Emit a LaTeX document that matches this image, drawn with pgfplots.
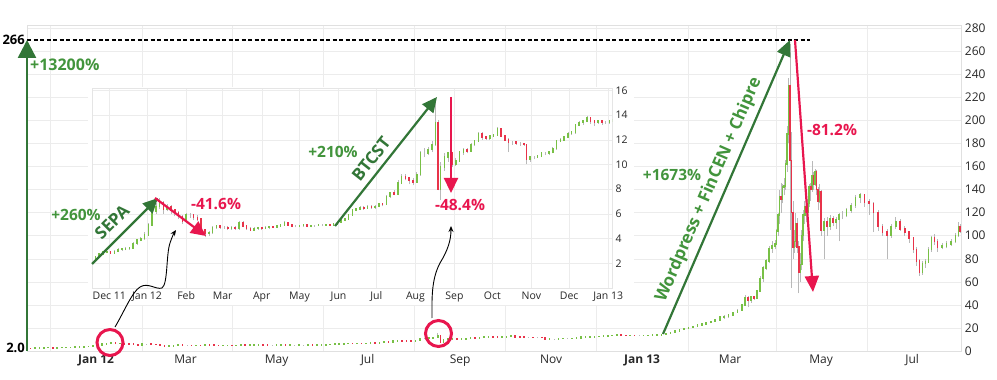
\documentclass[border=0pt]{standalone}
\usepackage{pgfplots}
\pgfplotsset{compat=1.18}
\usepackage{pgfplotstable}
\usepackage{fontspec}
\setmainfont{Open Sans}
\usetikzlibrary{arrows.meta}
\definecolor{cgreen}{RGB}{120,192,70}
\definecolor{cred}{RGB}{232,51,74}
\definecolor{agreen}{RGB}{50,118,55}
\definecolor{tgreen}{RGB}{66,148,60}
\definecolor{ared}{RGB}{232,22,78}
\definecolor{wick}{RGB}{185,185,185}
\definecolor{gridc}{RGB}{236,236,236}
\definecolor{tickc}{RGB}{40,40,40}

\pgfplotstableread{
d o h l c
-44 2.30 2.40 2.00 2.25
-41 2.25 2.60 2.20 2.50
-38 2.50 2.85 2.45 2.75
-35 2.75 3.00 2.70 2.90
-32 2.90 3.05 2.80 2.95
-29 2.95 3.00 2.75 2.85
-26 2.85 3.05 2.80 2.95
-23 2.95 3.20 2.90 3.10
-20 3.10 3.25 3.00 3.15
-17 3.15 3.30 3.05 3.20
-14 3.20 3.35 3.10 3.25
-11 3.25 3.75 3.20 3.60
-8 3.60 4.00 3.50 3.90
-5 3.90 4.15 3.80 4.00
-2 4.00 4.50 3.90 4.30
1 4.30 5.30 4.20 5.10
4 5.10 6.40 5.00 6.20
7 6.20 6.90 6.00 6.60
10 6.60 7.30 6.40 6.90
13 6.90 7.00 6.00 6.40
16 6.40 6.80 6.20 6.60
19 6.60 6.70 6.00 6.30
22 6.30 6.40 5.80 6.10
25 6.10 6.20 5.60 5.80
28 5.80 5.90 5.20 5.40
31 5.40 6.10 5.30 5.90
34 5.90 6.10 5.70 5.90
37 5.90 6.00 5.50 5.70
40 5.70 5.90 5.40 5.60
43 5.60 5.70 4.50 4.70
46 4.70 4.80 4.10 4.40
49 4.40 4.60 4.20 4.50
52 4.50 5.00 4.40 4.90
55 4.90 5.10 4.80 5.00
58 5.00 5.10 4.80 4.90
61 4.90 5.00 4.80 4.90
64 4.90 5.00 4.70 4.80
67 4.80 5.00 4.70 4.90
70 4.90 5.00 4.70 4.80
73 4.80 5.40 4.70 5.30
76 5.30 5.40 4.90 5.00
79 5.00 5.10 4.70 4.80
82 4.80 4.90 4.60 4.70
85 4.70 4.90 4.60 4.80
88 4.80 4.95 4.70 4.85
91 4.85 4.95 4.70 4.80
94 4.80 5.00 4.75 4.90
97 4.90 5.00 4.80 4.95
100 4.95 5.05 4.85 4.90
103 4.90 5.10 4.85 5.00
106 5.00 5.20 4.95 5.10
109 5.10 5.40 5.05 5.30
112 5.30 5.35 5.00 5.10
115 5.10 5.15 4.90 5.00
118 5.00 5.10 4.90 5.00
121 5.00 5.10 4.90 5.05
124 5.05 5.15 4.95 5.10
127 5.10 5.15 4.90 5.00
130 5.00 5.10 4.90 5.05
133 5.05 5.10 4.95 5.05
136 5.05 5.15 5.00 5.10
139 5.10 5.15 5.00 5.10
142 5.10 5.20 5.05 5.15
145 5.15 5.20 5.00 5.10
148 5.10 5.25 5.05 5.20
151 5.20 5.35 5.15 5.30
154 5.30 5.55 5.25 5.50
157 5.50 5.70 5.40 5.60
160 5.60 6.00 5.55 5.90
163 5.90 6.40 5.85 6.30
166 6.30 6.50 6.20 6.40
169 6.40 6.60 6.30 6.50
172 6.50 6.60 6.35 6.45
175 6.45 6.70 6.40 6.60
178 6.60 6.70 6.40 6.50
181 6.50 6.70 6.40 6.60
184 6.60 6.90 6.55 6.80
187 6.80 6.90 6.60 6.75
190 6.75 7.50 6.70 7.40
193 7.40 7.80 7.30 7.70
196 7.70 7.90 7.50 7.60
199 7.60 8.70 7.50 8.50
202 8.50 9.20 8.40 9.00
205 9.00 9.20 8.70 8.90
208 8.90 9.00 8.40 8.70
211 8.70 8.90 8.30 8.60
214 8.60 9.40 8.50 9.20
217 9.20 11.10 9.10 10.90
220 10.90 11.30 10.60 10.90
223 10.90 11.40 10.80 11.20
226 11.20 11.90 11.00 11.60
229 11.60 15.40 11.50 13.40
231 13.40 13.60 7.90 8.00
233 8.00 10.20 7.10 9.80
236 9.80 10.90 9.50 10.60
239 10.60 11.00 10.20 10.90
242 10.90 11.00 9.80 10.00
245 10.00 10.50 9.90 10.30
248 10.30 11.10 10.20 11.00
251 11.00 11.30 10.80 11.20
254 11.20 11.30 10.90 11.10
257 11.10 11.70 11.00 11.60
260 11.60 12.00 11.50 11.90
263 11.90 12.60 11.80 12.50
266 12.50 12.60 12.00 12.20
269 12.20 12.30 12.00 12.10
272 12.10 12.40 12.00 12.30
275 12.30 12.50 12.20 12.40
278 12.40 13.00 12.30 12.90
281 12.90 12.95 12.20 12.30
284 12.30 12.40 11.90 12.00
287 12.00 12.10 11.00 11.80
290 11.80 11.90 11.60 11.80
293 11.80 11.85 11.60 11.70
296 11.70 11.80 11.50 11.70
299 11.70 11.75 11.50 11.60
301 11.60 11.65 10.00 10.40
304 10.40 10.70 10.20 10.60
307 10.60 10.70 10.40 10.60
310 10.60 10.80 10.50 10.70
313 10.70 11.00 10.60 10.90
316 10.90 11.00 10.75 10.90
319 10.90 11.10 10.80 11.00
322 11.00 11.40 10.90 11.30
325 11.30 12.00 11.20 11.90
328 11.90 12.10 11.80 12.00
331 12.00 12.30 11.90 12.20
334 12.20 12.60 12.10 12.50
337 12.50 12.70 12.40 12.60
340 12.60 13.30 12.50 13.20
343 13.20 13.50 13.10 13.40
346 13.40 13.60 13.20 13.50
349 13.50 13.90 13.40 13.80
352 13.80 13.85 13.30 13.50
355 13.50 13.60 13.10 13.40
358 13.40 13.60 13.30 13.50
361 13.50 13.55 13.20 13.40
364 13.40 13.50 13.30 13.40
367 13.40 13.60 13.30 13.50
370 13.50 13.70 13.40 13.60
373 13.60 14.00 13.50 13.90
376 13.90 14.20 13.80 14.10
379 14.10 14.40 13.90 14.30
382 14.30 15.20 14.20 15.00
385 15.00 16.40 14.90 16.20
388 16.20 17.50 16.00 17.30
391 17.30 18.80 17.10 18.60
394 18.60 19.80 18.40 19.50
397 19.50 20.60 19.20 20.40
400 20.40 21.50 20.00 21.30
403 21.30 22.80 21.00 22.50
406 22.50 23.80 22.00 23.50
409 23.50 25.20 23.00 24.80
412 24.80 26.00 24.00 25.50
415 25.50 27.50 25.00 27.00
418 27.00 30.00 26.50 29.60
421 29.60 31.00 28.00 29.80
424 29.80 31.50 29.00 31.00
427 31.00 34.00 30.50 33.50
430 33.50 36.00 33.00 35.00
433 35.00 41.00 34.50 40.00
435 40.00 48.50 39.00 46.00
437 46.00 48.00 38.00 44.00
439 44.00 48.00 42.00 47.00
441 47.00 48.00 44.00 46.00
443 46.00 53.00 45.00 52.00
445 52.00 65.00 51.00 63.00
447 63.00 74.00 60.00 72.00
449 72.00 80.00 70.00 78.00
451 78.00 91.00 76.00 89.00
453 89.00 95.00 85.00 91.00
455 91.00 96.00 88.00 93.00
456 93.00 106.00 92.00 104.00
457 104.00 120.00 100.00 118.00
458 118.00 140.00 110.00 134.00
459 134.00 146.00 120.00 132.00
460 132.00 145.00 128.00 142.00
461 142.00 150.00 135.00 143.00
462 143.00 166.00 140.00 162.00
463 162.00 195.00 155.00 188.00
464 188.00 237.00 180.00 230.00
465 230.00 266.00 105.00 165.00
466 165.00 190.00 55.00 120.00
467 120.00 130.00 80.00 90.00
468 90.00 105.00 85.00 95.00
469 95.00 120.00 90.00 110.00
470 110.00 115.00 85.00 90.00
471 90.00 95.00 50.00 68.00
472 68.00 85.00 60.00 75.00
473 75.00 105.00 70.00 100.00
474 100.00 122.00 95.00 118.00
475 118.00 130.00 110.00 125.00
476 125.00 128.00 112.00 120.00
477 120.00 132.00 118.00 128.00
478 128.00 145.00 125.00 142.00
479 142.00 146.00 130.00 140.00
480 140.00 165.00 138.00 152.00
481 152.00 155.00 140.00 145.00
482 145.00 158.00 143.00 155.00
483 155.00 157.00 135.00 140.00
484 140.00 142.00 122.00 130.00
485 130.00 145.00 128.00 138.00
486 138.00 140.00 100.00 105.00
488 105.00 115.00 80.00 112.00
490 112.00 116.00 100.00 108.00
492 108.00 118.00 105.00 115.00
494 115.00 117.00 108.00 112.00
496 112.00 116.00 106.00 114.00
498 114.00 120.00 95.00 118.00
500 118.00 121.00 114.00 118.00
503 118.00 124.00 116.00 122.00
506 122.00 128.00 120.00 126.00
509 126.00 135.00 124.00 133.00
512 133.00 137.00 128.00 135.00
515 135.00 136.00 125.00 129.00
518 129.00 132.00 118.00 128.00
521 128.00 129.00 103.00 120.00
524 120.00 122.00 104.00 108.00
527 108.00 110.00 100.00 103.00
530 103.00 106.00 80.00 100.00
533 100.00 110.00 98.00 108.00
536 108.00 116.00 106.00 112.00
539 112.00 114.00 104.00 106.00
542 106.00 108.00 100.00 103.00
545 103.00 104.00 94.00 98.00
548 98.00 99.00 85.00 88.00
550 88.00 90.00 74.00 78.00
552 78.00 80.00 65.00 68.00
554 68.00 78.00 66.00 76.00
556 76.00 80.00 72.00 77.00
558 77.00 90.00 76.00 88.00
560 88.00 100.00 86.00 98.00
562 98.00 101.00 92.00 95.00
564 95.00 97.00 86.00 90.00
567 90.00 94.00 88.00 91.00
570 91.00 95.00 89.00 93.00
573 93.00 97.00 91.00 95.00
576 95.00 102.00 94.00 100.00
578 100.00 112.00 99.00 108.00
579 108.00 110.00 102.00 104.00
}\btc

\pgfplotsset{
  wickplot/.style={draw=none, mark=none, forget plot,
    error bars/y dir=plus, error bars/y explicit, error bars/error mark=none,
    error bars/error bar style={draw=wick, line width=0.6bp, solid}},
  bodyplot/.style={draw=none, mark=none, forget plot,
    error bars/y dir=plus, error bars/y explicit, error bars/error mark=none,
    error bars/error bar style={draw=#1, line width=1.6bp, line cap=rect, solid}},
}

\newcommand{\pct}{\fontsize{15.5bp}{18bp}\selectfont\bfseries}

\begin{document}
\begin{tikzpicture}
\useasboundingbox (0bp,0bp) rectangle (997bp,380bp);
% ---------------- main chart ----------------
\begin{axis}[
  at={(27.4bp,29bp)}, anchor=south west, scale only axis,
  width=934bp, height=325.3bp,
  xmin=-46, xmax=580, ymin=0, ymax=282,
  axis line style={draw=black!12},
  xtick={0,60,121,182,244,305,366,425,486,547},
  xticklabels={\textbf{Jan 12},Mar,May,Jul,Sep,Nov,\textbf{Jan 13},Mar,May,Jul},
  minor xtick={-31,31,91,152,213,274,335,397,456,517},
  xminorgrids, minor grid style={gridc},
  ytick={0,20,...,280}, ymajorgrids, major grid style={gridc},
  yticklabel pos=right,
  major tick length=0pt, minor tick length=0pt,
  tick label style={font=\fontsize{12bp}{14bp}\selectfont, text=tickc},
  /pgf/number format/assume math mode=true,
]
\addplot[wickplot] table[x=d, y=l, y error expr=\thisrow{h}-\thisrow{l}] {\btc};
\addplot[bodyplot=cgreen, restrict expr to domain={\thisrow{c}-\thisrow{o}}{0:1000}]
  table[x=d, y=o, y error expr=\thisrow{c}-\thisrow{o}] {\btc};
\addplot[bodyplot=cred, restrict expr to domain={\thisrow{o}-\thisrow{c}}{0.0001:1000}]
  table[x=d, y=c, y error expr=\thisrow{o}-\thisrow{c}] {\btc};
\end{axis}

% white panel behind inset
\fill[white] (88bp,75bp) rectangle (634bp,293bp);

% ---------------- inset chart ----------------
\begin{axis}[
  at={(92bp,92bp)}, anchor=south west, scale only axis,
  width=520bp, height=200.2bp,
  xmin=-43.7, xmax=369, ymin=0, ymax=16.2,
  axis line style={draw=black!10},
  xtick={-30,0,31,60,91,121,152,182,213,244,274,305,335,366},
  xticklabels={Dec 11,Jan 12,Feb,Mar,Apr,May,Jun,Jul,Aug,Sep,Oct,Nov,Dec,Jan 13},
  ytick={2,4,...,16},
  xmajorgrids, ymajorgrids, major grid style={gridc},
  yticklabel pos=right,
  major tick length=0pt,
  tick label style={font=\fontsize{10.5bp}{12bp}\selectfont, text=tickc},
  /pgf/number format/assume math mode=true,
]
\addplot[wickplot] table[x=d, y=l, y error expr=\thisrow{h}-\thisrow{l}] {\btc};
\addplot[bodyplot=cgreen, restrict expr to domain={\thisrow{c}-\thisrow{o}}{0:1000}]
  table[x=d, y=o, y error expr=\thisrow{c}-\thisrow{o}] {\btc};
\addplot[bodyplot=cred, restrict expr to domain={\thisrow{o}-\thisrow{c}}{0.0001:1000}]
  table[x=d, y=c, y error expr=\thisrow{o}-\thisrow{c}] {\btc};
\end{axis}

% ---------------- annotations ----------------
\begin{scope}[x=1bp,y=1bp]
\draw[black, line width=1.3bp, dash pattern=on 4bp off 2.5bp] (27,340) -- (810,340);
\node[anchor=east, inner sep=0pt, font=\fontsize{13bp}{15bp}\selectfont\bfseries] at (25,340) {266};
\node[anchor=east, inner sep=0pt, font=\fontsize{13bp}{15bp}\selectfont\bfseries] at (25,32) {2.0};
\draw[agreen, line width=2.5bp, -{Triangle[width=18bp,length=18bp]}] (27,29) -- (27,340);
\node[anchor=west, inner sep=0pt, text=tgreen, font=\fontsize{16bp}{18bp}\selectfont\bfseries] at (30,315) {+13200\%};

% inset: SEPA
\draw[agreen, line width=2.2bp, -{Triangle[width=14bp,length=15bp]}] (92,116) -- (158,182);
\node[rotate=45, text=agreen, font=\fontsize{17bp}{19bp}\selectfont\bfseries] at (112,158) {SEPA};
\node[text=tgreen, font=\pct] at (76,165) {+260\%};
\draw[ared, line width=2.2bp, -{Triangle[width=14bp,length=15bp]}] (155,182) -- (206,144);
\node[text=ared, font=\pct] at (216,176) {-41.6\%};
% inset: BTCST
\draw[agreen, line width=2.2bp, -{Triangle[width=14bp,length=15bp]}] (335,154) -- (437,283);
\node[rotate=51.7, text=agreen, font=\fontsize{17bp}{19bp}\selectfont\bfseries] at (371,221) {BTCST};
\node[text=tgreen, font=\pct] at (333,228) {+210\%};
\draw[ared, line width=2.2bp, -{Triangle[width=14bp,length=15bp]}] (451,283) -- (451,187);
\node[text=ared, font=\pct] at (460,175) {-48.4\%};
% main: 2013
\draw[agreen, line width=2.2bp, -{Triangle[width=14bp,length=16bp]}] (663,46) -- (790,340);
\node[rotate=66.6, text=tgreen, font=\fontsize{17bp}{19bp}\selectfont\bfseries] at (709,190) {Wordpress + FinCEN + Chipre};
\node[text=tgreen, font=\pct] at (672,205) {+1673\%};
\draw[ared, line width=2.2bp, -{Triangle[width=14bp,length=16bp]}] (795,340) -- (813,88);
\node[text=ared, font=\pct] at (832,250) {-81.2\%};

% circles
\draw[ared, line width=3bp] (110,37.5) circle (13);
\draw[ared, line width=3bp] (438.5,46.5) circle (13);

% curved pointers
\draw[black, line width=0.9bp, -{Stealth[length=6bp,width=5bp]}]
  (115,53) .. controls (124,68) and (132,88) .. (140,93)
  .. controls (148,98) and (156,90) .. (162,92)
  .. controls (168,96) and (166,125) .. (170,137)
  .. controls (172,143) and (174,147) .. (176,150);
\draw[black, line width=0.9bp, -{Stealth[length=6bp,width=5bp]}]
  (432,62) .. controls (432,80) and (431,100) .. (440,117)
  .. controls (448,130) and (451,140) .. (451,154);
\end{scope}
\end{tikzpicture}
\end{document}
